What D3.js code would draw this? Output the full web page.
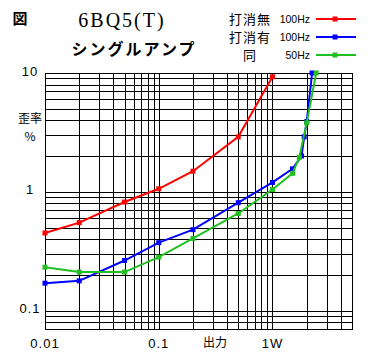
<!DOCTYPE html>
<html>
<head>
<meta charset="utf-8">
<script src="https://cdn.jsdelivr.net/npm/d3@7"></script>
<style>
  html, body { margin: 0; padding: 0; background: #fff; }
  svg { display: block; }
  .grid line, .grid path { stroke: #000; stroke-width: 1; shape-rendering: crispEdges; }
  .grid text { display: none; }
</style>
</head>
<body>
<svg id="chart" width="370" height="360"></svg>
<script>
// output power (W) and distortion (%)
var power = {
  red:   [0.01, 0.02, 0.05, 0.1, 0.2, 0.5, 1.0],
  blue:  [0.01, 0.02, 0.05, 0.1, 0.2, 0.5, 1.0, 1.5, 1.8, 1.9, 2.0, 2.23],
  green: [0.01, 0.02, 0.05, 0.1, 0.2, 0.5, 1.0, 1.5, 1.72, 2.0, 2.42]
};
var distRed   = [0.45, 0.55, 0.82, 1.06, 1.49, 2.9, 9.3];
var distBlue  = [0.17, 0.178, 0.264, 0.373, 0.48, 0.81, 1.2, 1.56, 2.0, 2.9, 3.9, 10];
var distGreen = [0.232, 0.211, 0.211, 0.282, 0.405, 0.657, 1.045, 1.43, 1.95, 3.8, 10];

var seriesNames = ["打消無", "打消有", "同"];
var seriesFreq  = ["100Hz", "100Hz", "50Hz"];
var seriesColor = ["#ff0000", "#0000ff", "#20c020"];

var xTickLabels = ["0.01", "0.1", "1W"];
var xTickValues = [0.01, 0.1, 1];
var yTickLabels = ["10", "1", "0.1"];
var yTickValues = [10, 1, 0.1];

var svg = d3.select("#chart"),
    margin = {top: 73, right: 18, bottom: 31, left: 45},
    width = 370 - margin.left - margin.right,
    height = 360 - margin.top - margin.bottom;

var x = d3.scaleLog().domain([0.01, 5]).range([margin.left, margin.left + width]);
var y = d3.scaleLog().domain([0.07, 10]).range([margin.top + height, margin.top]);

// grid
svg.append("g")
    .attr("class", "grid")
    .attr("transform", "translate(0," + (margin.top + height) + ")")
    .call(d3.axisBottom(x).ticks(30).tickSize(-height).tickFormat(""));
svg.append("g")
    .attr("class", "grid")
    .attr("transform", "translate(" + margin.left + ",0)")
    .call(d3.axisLeft(y).ticks(30).tickSize(-width).tickFormat(""));
svg.append("rect")
    .attr("x", margin.left + 0.5)
    .attr("y", margin.top + 0.5)
    .attr("width", width)
    .attr("height", height)
    .attr("fill", "none")
    .attr("stroke", "#000")
    .attr("shape-rendering", "crispEdges");

// series
var data = [
  d3.zip(power.red, distRed),
  d3.zip(power.blue, distBlue),
  d3.zip(power.green, distGreen)
];
var line = d3.line()
    .x(function(d) { return x(d[0]); })
    .y(function(d) { return y(d[1]); });

var series = svg.append("g").selectAll("g")
  .data(data)
  .enter().append("g")
    .attr("stroke", function(d, i) { return seriesColor[i]; })
    .attr("fill", function(d, i) { return seriesColor[i]; });

series.append("path")
    .attr("fill", "none")
    .attr("stroke-width", 2)
    .attr("d", line);

series.selectAll("rect")
  .data(function(d) { return d; })
  .enter().append("rect")
    .attr("stroke", "none")
    .attr("x", function(d) { return x(d[0]) - 2.5; })
    .attr("y", function(d) { return y(d[1]) - 2.5; })
    .attr("width", 5)
    .attr("height", 5);

// tick labels
var tickFont = "'Liberation Sans', 'DejaVu Sans', sans-serif";
svg.append("g").selectAll("text")
  .data(yTickValues)
  .enter().append("text")
    .attr("x", 30)
    .attr("y", function(d) { return y(d) - 2; })
    .attr("dy", "0.35em")
    .attr("text-anchor", "middle")
    .attr("font-family", tickFont)
    .attr("font-size", 13)
    .attr("letter-spacing", 1)
    .text(function(d, i) { return yTickLabels[i]; });

svg.append("g").selectAll("text")
  .data(xTickValues)
  .enter().append("text")
    .attr("x", function(d) { return x(d); })
    .attr("y", 343)
    .attr("dy", "0.35em")
    .attr("text-anchor", "middle")
    .attr("font-family", tickFont)
    .attr("font-size", 13)
    .attr("letter-spacing", 1)
    .text(function(d, i) { return xTickLabels[i]; });

var jp = "'Noto Sans CJK JP', sans-serif";
svg.append("text")
    .attr("x", 215).attr("y", 343).attr("dy", "0.35em")
    .attr("text-anchor", "middle")
    .attr("font-family", jp).attr("font-size", 12)
    .text("出力");
svg.append("text")
    .attr("x", 30).attr("y", 119).attr("dy", "0.35em")
    .attr("text-anchor", "middle")
    .attr("font-family", jp).attr("font-size", 12)
    .text("歪率");
svg.append("text")
    .attr("x", 30).attr("y", 137).attr("dy", "0.35em")
    .attr("text-anchor", "middle")
    .attr("font-family", jp).attr("font-size", 12)
    .text("%");

// title
svg.append("text")
    .attr("x", 20).attr("y", 19).attr("dy", "0.35em")
    .attr("text-anchor", "middle")
    .attr("font-family", jp).attr("font-size", 15).attr("font-weight", "bold")
    .text("図");
svg.append("text")
    .attr("x", 122).attr("y", 20).attr("dy", "0.35em")
    .attr("text-anchor", "middle")
    .attr("font-family", "'Liberation Serif', serif").attr("font-size", 20)
    .attr("letter-spacing", 2)
    .text("6BQ5(T)");
svg.append("text")
    .attr("x", 134).attr("y", 49).attr("dy", "0.35em")
    .attr("text-anchor", "middle")
    .attr("font-family", jp).attr("font-size", 16).attr("font-weight", "bold")
    .attr("letter-spacing", 2)
    .text("シングルアンプ");

// legend
var legend = svg.append("g").selectAll("g")
  .data(seriesNames)
  .enter().append("g")
    .attr("transform", function(d, i) { return "translate(0," + (19 + i * 18) + ")"; });

legend.append("text")
    .attr("x", 250).attr("dy", "0.35em")
    .attr("text-anchor", "middle")
    .attr("font-family", jp).attr("font-size", 13)
    .attr("letter-spacing", 1)
    .text(function(d) { return d; });
legend.append("text")
    .attr("x", 310).attr("dy", "0.35em")
    .attr("text-anchor", "end")
    .attr("font-family", tickFont).attr("font-size", 10.5)
    .text(function(d, i) { return seriesFreq[i]; });
legend.append("line")
    .attr("x1", 316).attr("x2", 356)
    .attr("stroke", function(d, i) { return seriesColor[i]; })
    .attr("stroke-width", 2);
legend.append("rect")
    .attr("x", 332.5).attr("y", -2.5)
    .attr("width", 5).attr("height", 5)
    .attr("fill", function(d, i) { return seriesColor[i]; });
</script>
</body>
</html>
